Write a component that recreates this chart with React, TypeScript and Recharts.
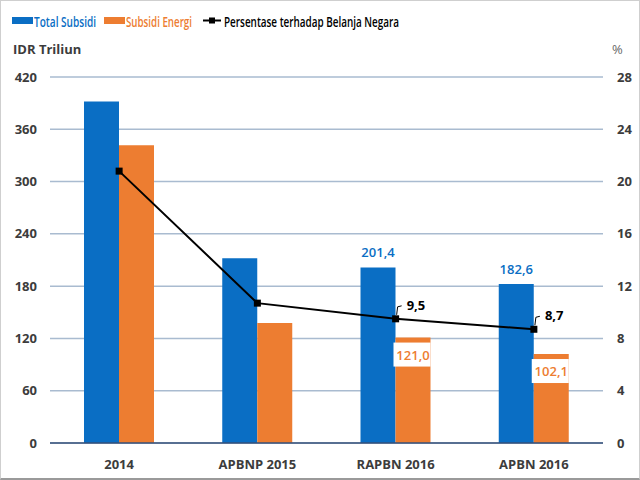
import React from 'react';
import {
  ComposedChart,
  Bar,
  Line,
  XAxis,
  YAxis,
  CartesianGrid,
  LabelList
} from 'recharts';

const categories = ['2014', 'APBNP 2015', 'RAPBN 2016', 'APBN 2016'];
const totalSubsidi = [391.9, 212.1, 201.4, 182.6];
const subsidiEnergi = [341.8, 137.8, 121.0, 102.1];
const persentase = [20.8, 10.7, 9.5, 8.7];
const totalLabels = [null, null, '201,4', '182,6'];
const energiLabels = [null, null, '121,0', '102,1'];
const persenLabels = [null, null, '9,5', '8,7'];
const leftTicks = [0, 60, 120, 180, 240, 300, 360, 420];
const rightTicks = [0, 4, 8, 12, 16, 20, 24, 28];

const BLUE = '#0a6ec4';
const ORANGE = '#ed7d31';
const GRID = '#a9bbd0';
const TICK = '#3c3c3c';
const FONT = "'Open Sans', 'Noto Sans', sans-serif";

const data = categories.map((name, i) => ({
  name,
  total: totalSubsidi[i],
  energi: subsidiEnergi[i],
  persen: persentase[i],
  totalLabel: totalLabels[i],
  energiLabel: energiLabels[i],
  persenLabel: persenLabels[i]
}));

const tickStyle = { fill: TICK, fontSize: 13, fontWeight: 700, fontFamily: FONT };

function TotalLabel(props: any) {
  const { x, y, width, value } = props;
  if (!value) return null;
  return (
    <text x={x + width / 2} y={y - 10} textAnchor="middle" fill={BLUE}
      fontSize={13} fontWeight={600} fontFamily={FONT}>
      {value}
    </text>
  );
}

function EnergiLabel(props: any) {
  const { x, y, width, value } = props;
  if (!value) return null;
  return (
    <g>
      <rect x={x - 2} y={y + 5} width={width + 2} height={24} fill="#fff" />
      <text x={x + width / 2} y={y + 17} textAnchor="middle" dominantBaseline="central"
        fill={ORANGE} fontSize={13} fontWeight={600} fontFamily={FONT}>
        {value}
      </text>
    </g>
  );
}

function PersenLabel(props: any) {
  const { x, y, value } = props;
  if (!value) return null;
  return (
    <g>
      <polyline points={`${x + 1},${y - 4} ${x + 2},${y - 12} ${x + 6},${y - 13}`}
        fill="none" stroke="#000" strokeWidth={1} />
      <text x={x + 11} y={y - 14} dominantBaseline="central" fill="#000"
        fontSize={13} fontWeight={700} fontFamily={FONT}>
        {value}
      </text>
    </g>
  );
}

function SquareDot(props: any) {
  const { cx, cy } = props;
  return <rect x={cx - 3.5} y={cy - 3.5} width={7} height={7} fill="#000" />;
}

// legend text is narrow in the original, squeeze it with textLength
function LegendBox() {
  const ty = 21;
  const textProps = { fontFamily: FONT, fontSize: 14, fontWeight: 600, dominantBaseline: 'central' as const,
    lengthAdjust: 'spacingAndGlyphs' as const };
  return (
    <svg width={640} height={36} style={{ position: 'absolute', left: 0, top: 0 }}>
      <rect x={12} y={17} width={21} height={7} fill={BLUE} />
      <text x={34} y={ty} fill={BLUE} textLength={62} {...textProps}>Total Subsidi</text>
      <rect x={104} y={17} width={21} height={7} fill={ORANGE} />
      <text x={126} y={ty} fill={ORANGE} textLength={66} {...textProps}>Subsidi Energi</text>
      <line x1={203} y1={20.5} x2={221} y2={20.5} stroke="#000" strokeWidth={2} />
      <rect x={209} y={17.5} width={6} height={6} fill="#000" />
      <text x={224} y={ty} fill="#000" textLength={175} {...textProps}>Persentase terhadap Belanja Negara</text>
    </svg>
  );
}

export default function App() {
  return (
    <div style={{ position: 'fixed', left: 0, top: 0, width: 640, height: 480, background: '#fff' }}>
      <ComposedChart width={640} height={480} data={data}
        margin={{ top: 77, right: 0, bottom: 0, left: 0 }} barGap={0}>
        <CartesianGrid yAxisId="left" vertical={false} stroke={GRID} strokeWidth={1.5} />
        <XAxis dataKey="name" axisLine={{ stroke: '#34507a', strokeWidth: 1.5 }} tickLine={false}
          tickSize={0} tickMargin={17} height={37} tick={tickStyle} interval={0} />
        <YAxis yAxisId="left" domain={[0, 420]} ticks={leftTicks} width={50} axisLine={false}
          tickLine={false} tickSize={0} tickMargin={13} tick={tickStyle} />
        <YAxis yAxisId="right" orientation="right" domain={[0, 28]} ticks={rightTicks} width={37}
          axisLine={false} tickLine={false} tickSize={0} tickMargin={14} tick={tickStyle} />
        <Bar yAxisId="left" dataKey="total" fill={BLUE} barSize={35} isAnimationActive={false}>
          <LabelList dataKey="totalLabel" content={TotalLabel} />
        </Bar>
        <Bar yAxisId="left" dataKey="energi" fill={ORANGE} barSize={35} isAnimationActive={false}>
          <LabelList dataKey="energiLabel" content={EnergiLabel} />
        </Bar>
        <Line yAxisId="right" dataKey="persen" stroke="#000" strokeWidth={2} dot={SquareDot}
          activeDot={false} isAnimationActive={false}>
          <LabelList dataKey="persenLabel" content={PersenLabel} />
        </Line>
      </ComposedChart>

      <LegendBox />
      <div style={{ position: 'absolute', left: 13, top: 40, fontFamily: FONT, fontSize: 13,
        fontWeight: 700, color: TICK }}>IDR Triliun</div>
      <div style={{ position: 'absolute', left: 612, top: 40, fontFamily: FONT, fontSize: 13,
        color: '#666' }}>%</div>
      <div style={{ position: 'absolute', left: 0, top: 0, width: 640, height: 480, boxSizing: 'border-box',
        borderTop: '1px solid #cfcfcf', borderLeft: '1px solid #cfcfcf', borderRight: '1px solid #cfcfcf',
        borderBottom: '2px solid #9a9a9a', pointerEvents: 'none' }} />
    </div>
  );
}
